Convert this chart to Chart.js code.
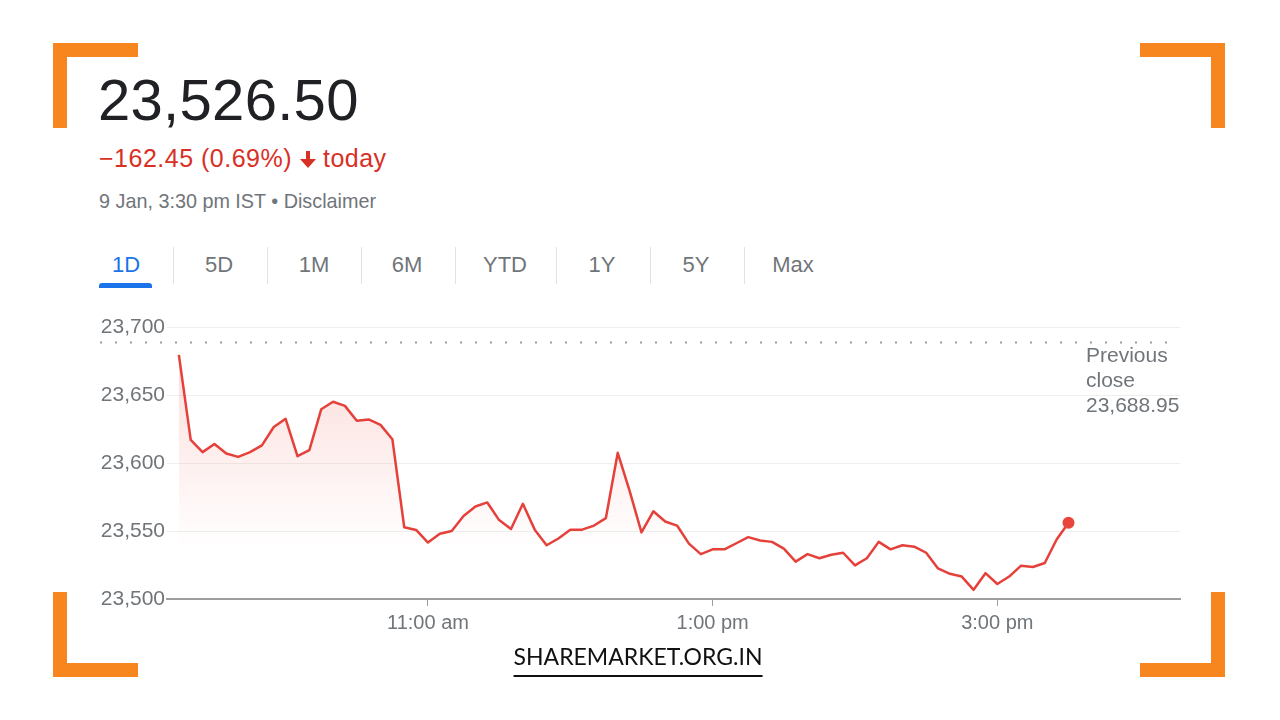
<!DOCTYPE html>
<html>
<head>
<meta charset="utf-8">
<title>NIFTY 50 - 1D</title>
<script src="https://cdn.jsdelivr.net/npm/chart.js@4/dist/chart.umd.min.js"></script>
<style>
  html, body { margin: 0; padding: 0; background: #fff; }
  body { width: 1280px; height: 720px; position: relative; overflow: hidden; font-family: Arial, "Liberation Sans", sans-serif; }
  .corner { position: absolute; width: 85px; height: 85px; box-sizing: border-box; border: 0 solid #f8861f; }
  .tl { left: 53px; top: 43px; border-top-width: 14px; border-left-width: 14px; }
  .tr { left: 1140px; top: 43px; border-top-width: 14px; border-right-width: 14px; }
  .bl { left: 53px; top: 592px; border-bottom-width: 14px; border-left-width: 14px; }
  .br { left: 1140px; top: 592px; border-bottom-width: 14px; border-right-width: 14px; }
  .price { position: absolute; left: 98px; top: 71px; font-size: 58px; line-height: 58px; color: #202124; letter-spacing: 0.3px; }
  .change { position: absolute; left: 99px; top: 146px; font-size: 25px; line-height: 25px; color: #d93025; white-space: nowrap; letter-spacing: 0.5px; }
  .change svg { vertical-align: -2px; }
  .stamp { position: absolute; left: 99px; top: 191px; font-size: 19.8px; line-height: 20px; color: #70757a; white-space: nowrap; }
  .tab { position: absolute; top: 254px; font-size: 22px; line-height: 22px; color: #70757a; transform: translateX(-50%); white-space: nowrap; }
  .tab.active { color: #1a73e8; }
  .sep { position: absolute; top: 247px; width: 1px; height: 37px; background: #e3e3e3; }
  .underline { position: absolute; left: 99px; top: 283px; width: 53px; height: 5px; background: #1a73e8; border-radius: 3px 3px 0 0; }
  #chartBox { position: absolute; left: 90px; top: 300px; width: 1110px; height: 350px; }
  .brand { position: absolute; left: 638px; top: 641px; transform: translateX(-50%); font-family: Lato, "Open Sans", sans-serif; font-size: 23px; line-height: 30px; color: #111; border-bottom: 2px solid #111; padding-bottom: 4px; white-space: nowrap; }
</style>
</head>
<body>
<div class="corner tl"></div>
<div class="corner tr"></div>
<div class="corner bl"></div>
<div class="corner br"></div>

<div class="price">23,526.50</div>
<div class="change">−162.45 (0.69%) <svg width="16" height="18" viewBox="0 0 16 18"><rect x="6" y="0" width="4" height="10" fill="#d93025"/><polygon points="0,8 16,8 8,17" fill="#d93025"/></svg> today</div>
<div class="stamp">9 Jan, 3:30 pm IST • Disclaimer</div>

<div id="tabs"></div>
<div class="underline"></div>

<div id="chartBox"><canvas id="priceChart"></canvas></div>

<div class="brand">SHAREMARKET.ORG.IN</div>

<script>
// ── Data ──
const times = [
  '09:15','09:20','09:25','09:30','09:35','09:40','09:45','09:50','09:55','10:00',
  '10:05','10:10','10:15','10:20','10:25','10:30','10:35','10:40','10:45','10:50',
  '10:55','11:00','11:05','11:10','11:15','11:20','11:25','11:30','11:35','11:40',
  '11:45','11:50','11:55','12:00','12:05','12:10','12:15','12:20','12:25','12:30',
  '12:35','12:40','12:45','12:50','12:55','13:00','13:05','13:10','13:15','13:20',
  '13:25','13:30','13:35','13:40','13:45','13:50','13:55','14:00','14:05','14:10',
  '14:15','14:20','14:25','14:30','14:35','14:40','14:45','14:50','14:55','15:00',
  '15:05','15:10','15:15','15:20','15:25','15:30'
];
const prices = [
  23679.5, 23617, 23608, 23614, 23607, 23604.5, 23608, 23613, 23626.5, 23632.5,
  23605, 23609.5, 23639.5, 23645, 23642, 23631, 23632, 23628, 23617.5, 23552.75,
  23550.75, 23541.5, 23548, 23550, 23561, 23568, 23571, 23558, 23551.5, 23570,
  23551, 23539.5, 23544.5, 23551, 23551, 23554, 23559.5, 23607.5, 23579.5, 23549,
  23564.5, 23557, 23554, 23540.75, 23533, 23536.5, 23536.5, 23541, 23545.5, 23543,
  23542, 23537, 23527.5, 23533, 23530, 23532.5, 23534, 23524.75, 23530, 23542,
  23536.5, 23539.5, 23538.5, 23534, 23522.5, 23518.5, 23516.5, 23506.75, 23519, 23511,
  23516.5, 23524.5, 23523.5, 23526.5, 23543.75, 23556
];
const previousClose = 23688.95;
const yTicks = [23500, 23550, 23600, 23650, 23700];
const xTickTimes = ['11:00', '13:00', '15:00'];
const xTickLabels = ['11:00 am', '1:00 pm', '3:00 pm'];
const ranges = ['1D', '5D', '1M', '6M', 'YTD', '1Y', '5Y', 'Max'];

// ── Tabs ──
const tabCenters = [126, 219, 314, 407, 505, 602, 696, 793];
const sepX = [173, 267, 361, 455, 556, 650, 744];
const tabsEl = document.getElementById('tabs');
ranges.forEach((r, i) => {
    const t = document.createElement('div');
    t.className = 'tab' + (i === 0 ? ' active' : '');
    t.style.left = tabCenters[i] + 'px';
    t.textContent = r;
    tabsEl.appendChild(t);
});
sepX.forEach(x => {
    const s = document.createElement('div');
    s.className = 'sep';
    s.style.left = x + 'px';
    tabsEl.appendChild(s);
});

function toMinutes(hhmm) {
    const [h, m] = hhmm.split(':').map(Number);
    return h * 60 + m;
}

const points = times.map((t, i) => ({ x: toMinutes(t), y: prices[i] }));
const xTickValues = xTickTimes.map(toMinutes);
const lastIdx = prices.length - 1;

// previous close dotted line + label
const prevClosePlugin = {
    id: 'prevClose',
    beforeDatasetsDraw(chart) {
        const { ctx, chartArea, scales } = chart;
        const y = Math.round(scales.y.getPixelForValue(previousClose)) + 0.5;
        ctx.save();
        ctx.strokeStyle = '#9aa0a6';
        ctx.lineWidth = 2;
        ctx.setLineDash([2, 13]);
        ctx.beginPath();
        ctx.moveTo(10, y);
        ctx.lineTo(chartArea.right, y);
        ctx.stroke();
        ctx.setLineDash([]);
        ctx.fillStyle = '#70757a';
        ctx.font = '21px Arial, "Liberation Sans", sans-serif';
        ctx.textAlign = 'left';
        ctx.textBaseline = 'middle';
        const tx = chartArea.right - 94;
        ctx.fillText('Previous', tx, 56);
        ctx.fillText('close', tx, 81);
        ctx.fillText(previousClose.toLocaleString('en-US', { minimumFractionDigits: 2 }), tx, 106);
        ctx.restore();
    }
};

const ctx = document.getElementById('priceChart').getContext('2d');
const priceChart = new Chart(ctx, {
    type: 'line',
    data: {
        datasets: [{
            data: points,
            borderColor: '#e5413a',
            borderWidth: 2.5,
            borderJoinStyle: 'round',
            tension: 0,
            fill: 'start',
            backgroundColor: c => {
                const area = c.chart.chartArea;
                if (!area) return 'rgba(234,67,53,0.1)';
                const g = c.chart.ctx.createLinearGradient(0, area.top, 0, area.bottom);
                g.addColorStop(0, 'rgba(234,67,53,0.2)');
                g.addColorStop(0.82, 'rgba(234,67,53,0)');
                return g;
            },
            pointRadius: c => c.dataIndex === lastIdx ? 6 : 0,
            pointBackgroundColor: '#e8453c',
            pointBorderWidth: 0
        }]
    },
    options: {
        responsive: true,
        maintainAspectRatio: false,
        animation: false,
        events: [],
        layout: { padding: { top: 27, right: 20, left: 0, bottom: 0 } },
        plugins: {
            legend: { display: false },
            tooltip: { enabled: false }
        },
        scales: {
            x: {
                type: 'linear',
                min: 550,
                max: 977,
                afterFit: s => { s.height = 51; },
                afterBuildTicks: s => { s.ticks = xTickValues.map(v => ({ value: v })); },
                border: { color: '#9e9e9e', width: 2 },
                grid: { drawOnChartArea: false, drawTicks: true, tickLength: 7, color: '#9e9e9e' },
                ticks: {
                    autoSkip: false,
                    maxRotation: 0,
                    padding: 5,
                    color: '#70757a',
                    font: { size: 20, family: 'Arial, "Liberation Sans", sans-serif' },
                    callback: v => xTickLabels[xTickValues.indexOf(v)] ?? ''
                }
            },
            y: {
                min: 23500,
                max: 23700,
                afterFit: s => { s.width = 77; },
                afterBuildTicks: s => { s.ticks = yTicks.map(v => ({ value: v })); },
                border: { display: false },
                grid: {
                    drawTicks: false,
                    color: c => c.tick && c.tick.value === 23500 ? 'rgba(0,0,0,0)' : '#efefef'
                },
                ticks: {
                    padding: 2,
                    color: '#70757a',
                    font: { size: 21, family: 'Arial, "Liberation Sans", sans-serif' },
                    callback: v => Number(v).toLocaleString('en-US')
                }
            }
        }
    },
    plugins: [prevClosePlugin]
});
</script>
</body>
</html>
